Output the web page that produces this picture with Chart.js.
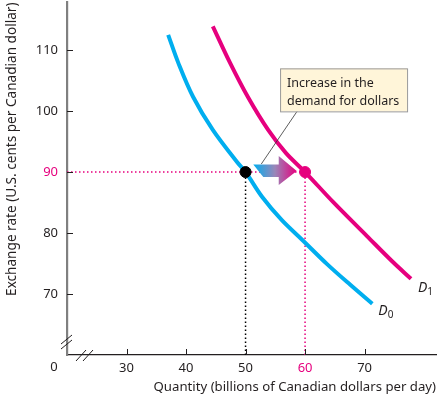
<!DOCTYPE html>
<html>
<head>
<meta charset="utf-8">
<script src="https://cdn.jsdelivr.net/npm/chart.js@4/dist/chart.umd.min.js"></script>
<style>
html, body { margin: 0; padding: 0; background: #fff; }
</style>
</head>
<body>
<canvas id="fxChart" width="437" height="399"></canvas>
<script>
// values
const xTicks = [30, 40, 50, 60, 70];
const yTicks = [70, 80, 90, 100, 110];
const d0Qty  = [37.0, 38.7, 41.2, 44.5, 48.6, 50, 52.8, 56.1, 59.5, 63.7, 67.6, 71.3];
const d0Rate = [112.5, 107.9, 102.3, 96.9, 91.6, 90, 85.9, 82.1, 78.9, 74.9, 71.5, 68.4];
const d1Qty  = [44.5, 47.4, 50.4, 53.8, 56.8, 60, 64.7, 70.4, 74.8, 77.8];
const d1Rate = [113.9, 107.9, 102.3, 96.9, 93.1, 90, 85.1, 79.5, 75.2, 72.5];
const eqQty  = [50, 60];
const eqRate = 90;
const boxLines = ['Increase in the', 'demand for dollars'];

const BLUE = '#00aeef';
const PINK = '#e6007e';
const INK = '#231f20';
const FONT = '"Noto Sans", sans-serif';

Chart.defaults.font.family = FONT;
Chart.defaults.font.size = 13;
Chart.defaults.color = INK;

const toPts = (xs, ys) => xs.map((x, i) => ({ x: x, y: ys[i] }));

const extras = {
    id: 'extras',
    afterDatasetsDraw(chart) {
        const ctx = chart.ctx;
        const xs = chart.scales.x, ys = chart.scales.y;
        const area = chart.chartArea;
        ctx.save();

        // tick marks point inwards
        ctx.strokeStyle = INK;
        ctx.lineWidth = 1;
        ctx.beginPath();
        yTicks.forEach(v => {
            const py = Math.round(ys.getPixelForValue(v)) + 0.5;
            ctx.moveTo(area.left, py);
            ctx.lineTo(area.left + 6, py);
        });
        xTicks.forEach(v => {
            const px = Math.round(xs.getPixelForValue(v)) + 0.5;
            ctx.moveTo(px, area.bottom);
            ctx.lineTo(px, area.bottom - 6);
        });
        ctx.stroke();

        // axis breaks
        ctx.beginPath();
        ctx.moveTo(area.left - 6, area.bottom - 11); ctx.lineTo(area.left + 5, area.bottom - 20);
        ctx.moveTo(area.left - 6, area.bottom - 6);  ctx.lineTo(area.left + 5, area.bottom - 15);
        ctx.moveTo(area.left + 9, area.bottom + 6);  ctx.lineTo(area.left + 19, area.bottom - 5);
        ctx.moveTo(area.left + 16, area.bottom + 6); ctx.lineTo(area.left + 26, area.bottom - 5);
        ctx.stroke();

        // origin label
        ctx.font = '13px ' + FONT;
        ctx.fillStyle = INK;
        ctx.textAlign = 'center';
        ctx.textBaseline = 'top';
        ctx.fillText('0', area.left - 13, area.bottom + 6);

        // shift arrow
        const ay = ys.getPixelForValue(eqRate) - 1;
        const ax0 = xs.getPixelForValue(51.3);
        const ax1 = xs.getPixelForValue(58.6);
        const grad = ctx.createLinearGradient(ax0, 0, ax1, 0);
        grad.addColorStop(0, BLUE);
        grad.addColorStop(0.5, '#9a86b8');
        grad.addColorStop(1, PINK);
        const headL = 18;
        ctx.fillStyle = grad;
        ctx.beginPath();
        ctx.moveTo(ax0, ay - 6.5);
        ctx.lineTo(ax1 - headL, ay - 6.5);
        ctx.lineTo(ax1 - headL, ay - 15);
        ctx.lineTo(ax1, ay);
        ctx.lineTo(ax1 - headL, ay + 14);
        ctx.lineTo(ax1 - headL, ay + 6);
        ctx.lineTo(ax0 + 10, ay + 6);
        ctx.closePath();
        ctx.fill();

        // callout
        const bx = xs.getPixelForValue(55.8), by = ys.getPixelForValue(107);
        const bw = 127, bh = 43;
        ctx.strokeStyle = '#333';
        ctx.lineWidth = 0.8;
        ctx.beginPath();
        ctx.moveTo(bx + 17, by + bh);
        ctx.lineTo(ax0 + 8, ay - 7);
        ctx.stroke();
        ctx.fillStyle = '#fff5d9';
        ctx.fillRect(bx, by, bw, bh);
        ctx.strokeStyle = '#9a9a9a';
        ctx.lineWidth = 1;
        ctx.strokeRect(bx + 0.5, by + 0.5, bw, bh);
        ctx.fillStyle = INK;
        ctx.textAlign = 'left';
        ctx.textBaseline = 'alphabetic';
        ctx.font = '12.5px ' + FONT;
        ctx.fillText(boxLines[0], bx + 7, by + 19);
        ctx.fillText(boxLines[1], bx + 7, by + 37);

        // curve labels
        const label = (name, sub, q, r, dx, dy) => {
            const px = xs.getPixelForValue(q) + dx, py = ys.getPixelForValue(r) + dy;
            ctx.font = 'italic 14px ' + FONT;
            ctx.fillText(name, px, py);
            const w = ctx.measureText(name).width;
            ctx.font = '10px ' + FONT;
            ctx.fillText(sub, px + w, py + 3);
        };
        label('D', '0', d0Qty[d0Qty.length - 1], d0Rate[d0Rate.length - 1], 6, 11);
        label('D', '1', d1Qty[d1Qty.length - 1], d1Rate[d1Rate.length - 1], 7, 13);

        ctx.restore();
    }
};

new Chart(document.getElementById('fxChart'), {
    type: 'scatter',
    data: {
        datasets: [
            {
                data: [{ x: eqQty[0], y: eqRate }],
                backgroundColor: '#000', borderColor: '#000',
                pointRadius: 5.5, pointHoverRadius: 5.5
            },
            {
                data: [{ x: eqQty[1], y: eqRate }],
                backgroundColor: PINK, borderColor: PINK,
                pointRadius: 5.5, pointHoverRadius: 5.5
            },
            {
                data: toPts(d1Qty, d1Rate),
                showLine: true, borderColor: PINK, borderWidth: 4,
                pointRadius: 0, tension: 0.35, borderCapStyle: 'butt'
            },
            {
                data: toPts(d0Qty, d0Rate),
                showLine: true, borderColor: BLUE, borderWidth: 4,
                pointRadius: 0, tension: 0.35, borderCapStyle: 'butt'
            },
            {
                data: [{ x: 20, y: eqRate }, { x: eqQty[1], y: eqRate }],
                showLine: true, borderColor: PINK, borderWidth: 1.5,
                borderDash: [1.5, 2.5], pointRadius: 0
            },
            {
                data: [{ x: eqQty[0], y: 60 }, { x: eqQty[0], y: eqRate }],
                showLine: true, borderColor: '#000', borderWidth: 1.5,
                borderDash: [1.5, 2.5], pointRadius: 0
            },
            {
                data: [{ x: eqQty[1], y: 60 }, { x: eqQty[1], y: eqRate }],
                showLine: true, borderColor: PINK, borderWidth: 1.5,
                borderDash: [1.5, 2.5], pointRadius: 0
            }
        ]
    },
    options: {
        responsive: false,
        animation: false,
        layout: { autoPadding: false, padding: { top: 2.5, right: 1, left: 0, bottom: 0 } },
        plugins: { legend: { display: false }, tooltip: { enabled: false } },
        scales: {
            x: {
                min: 20, max: 82,
                afterBuildTicks: s => { s.ticks = xTicks.map(v => ({ value: v })); },
                afterFit: s => {
                    s.height = 44;
                    s.paddingLeft = 0; s.paddingRight = 0;
                },
                grid: { display: false, drawTicks: false },
                border: { color: INK, width: 1.2 },
                ticks: {
                    padding: 5,
                    color: c => c.tick && c.tick.value === eqQty[1] ? PINK : INK
                },
                title: {
                    display: true, align: 'end',
                    text: 'Quantity (billions of Canadian dollars per day)',
                    font: { size: 13.2 },
                    padding: { top: 4 }
                }
            },
            y: {
                min: 60, max: 117.8,
                afterBuildTicks: s => { s.ticks = yTicks.map(v => ({ value: v })); },
                afterFit: s => {
                    s.width = 67;
                    s.paddingTop = 0; s.paddingBottom = 0;
                },
                grid: { display: false, drawTicks: false },
                border: { color: '#808080', width: 2.2 },
                ticks: {
                    padding: 9,
                    color: c => c.tick && c.tick.value === eqRate ? PINK : INK
                },
                title: {
                    display: true, align: 'end',
                    text: 'Exchange rate (U.S. cents per Canadian dollar)',
                    font: { size: 13.6 },
                    padding: { bottom: 0 }
                }
            }
        }
    },
    plugins: [extras]
});
</script>
</body>
</html>
